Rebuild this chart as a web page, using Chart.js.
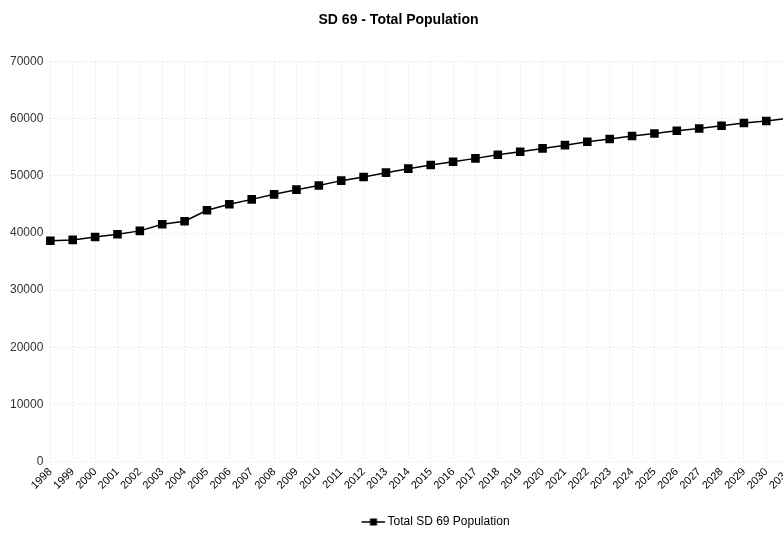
<!DOCTYPE html>
<html>
<head>
<meta charset="utf-8">
<script src="https://cdn.jsdelivr.net/npm/chart.js@4.4.1/dist/chart.umd.min.js"></script>
<style>
  html, body { margin: 0; padding: 0; background: #fff; overflow: hidden; }
  #wrap { position: relative; width: 802px; height: 533px; }
</style>
</head>
<body>
<div id="wrap"><canvas id="popChart"></canvas></div>
<script>
const years = ["1998", "1999", "2000", "2001", "2002", "2003", "2004", "2005", "2006", "2007", "2008",
  "2009", "2010", "2011", "2012", "2013", "2014", "2015", "2016", "2017", "2018", "2019", "2020",
  "2021", "2022", "2023", "2024", "2025", "2026", "2027", "2028", "2029", "2030", "2031"];
const population = [38650, 38800, 39300, 39780, 40380, 41530, 42060, 43980, 45030, 45900, 46780,
  47600, 48340, 49180, 49820, 50580, 51280, 51920, 52500, 53080, 53730, 54250, 54830,
  55400, 55980, 56470, 57000, 57450, 57930, 58330, 58800, 59270, 59620, 60120];
const yTicks = [0, 10000, 20000, 30000, 40000, 50000, 60000, 70000];

Chart.defaults.font.family = "'Liberation Sans', Arial, sans-serif";
Chart.defaults.color = "#222";

// legend icon: short line with a square in the middle (drawn right-heavy so it sits close to the text)
const legendIcon = document.createElement("canvas");
legendIcon.width = 32;
legendIcon.height = 10;
const ic = legendIcon.getContext("2d");
ic.strokeStyle = "#000";
ic.lineWidth = 1.5;
ic.beginPath();
ic.moveTo(8, 5);
ic.lineTo(32, 5);
ic.stroke();
ic.fillStyle = "#000";
ic.fillRect(16.5, 1.5, 7, 7);

// the legend in the original sits a little right of the plot centre
const legendShift = {
  id: "legendShift",
  afterLayout(chart) {
    chart.legend.left += 14;
    chart.legend.right += 14;
  },
};

const gridColor = "rgba(160,160,160,0.4)";

new Chart(document.getElementById("popChart"), {
  type: "line",
  data: {
    labels: years,
    datasets: [
      {
        label: "Total SD 69 Population",
        data: population,
        borderColor: "#000",
        backgroundColor: "#000",
        borderWidth: 1.5,
        pointStyle: "rect",
        pointRadius: 5,
        pointHoverRadius: 5,
        fill: false,
        tension: 0,
      },
    ],
  },
  options: {
    responsive: true,
    maintainAspectRatio: false,
    animation: false,
    layout: { padding: { left: 3, right: 8, top: 4, bottom: -5 } },
    plugins: {
      title: {
        display: true,
        text: "SD 69 - Total Population",
        color: "#000",
        font: { size: 14, weight: "bold" },
        padding: { top: 8, bottom: 33 },
      },
      legend: {
        position: "bottom",
        fullSize: false,
        labels: {
          color: "#000",
          font: { size: 12 },
          padding: 5,
          usePointStyle: true,
          pointStyleWidth: 24,
          generateLabels: (chart) => [
            {
              text: chart.data.datasets[0].label,
              pointStyle: legendIcon,
              fillStyle: "#000",
              strokeStyle: "#000",
              lineWidth: 0,
              datasetIndex: 0,
            },
          ],
        },
      },
      tooltip: { enabled: false },
    },
    scales: {
      x: {
        offset: false,
        grid: { color: gridColor, drawTicks: false },
        border: { display: false, dash: [1, 3] },
        title: { display: true, text: " ", font: { size: 5 }, padding: { top: 4, bottom: 5 } },
        ticks: {
          color: "#000",
          font: { size: 11 },
          maxRotation: 45,
          minRotation: 45,
          autoSkip: false,
          padding: 4,
        },
      },
      y: {
        min: 0,
        max: 70000,
        afterBuildTicks: (axis) => {
          axis.ticks = yTicks.map((v) => ({ value: v }));
        },
        grid: { color: gridColor, drawTicks: false },
        border: { display: false, dash: [1, 3] },
        ticks: {
          color: "#333",
          font: { size: 12 },
          padding: 7,
          callback: (value) => String(value),
        },
      },
    },
  },
  plugins: [legendShift],
});
</script>
</body>
</html>
